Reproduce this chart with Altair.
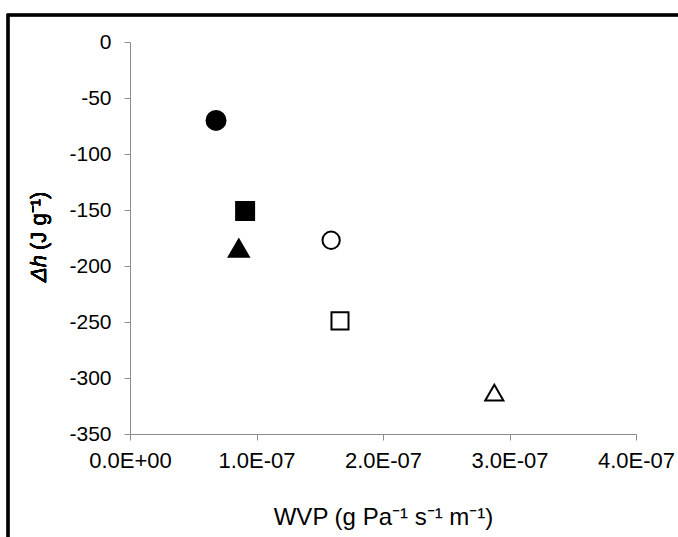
import altair as alt
import pandas as pd

# Data
wvp = [0.68e-7, 0.91e-7, 0.86e-7, 1.59e-7, 1.66e-7, 2.88e-7]
dh = [-70, -151, -184, -177, -249, -313]
shapes = ["circle", "square", "triangle-up", "circle", "square", "triangle-up"]
fills = ["black", "black", "black", "white", "white", "white"]
sizes = [361, 324, 400, 300, 290, 330]

x_ticks = [0, 1e-7, 2e-7, 3e-7, 4e-7]
y_ticks = [0, -50, -100, -150, -200, -250, -300, -350]

df = pd.DataFrame({"wvp": wvp, "dh": dh, "shape": shapes, "fill": fills, "size": sizes})

FONT = "Liberation Sans"
AXIS_GREY = "#8c8c8c"

points = alt.Chart(df).mark_point(filled=True, stroke="black", strokeWidth=2, opacity=1).encode(
    x=alt.X(
        "wvp:Q",
        scale=alt.Scale(domain=[0, 4e-7], nice=False, zero=False),
        axis=alt.Axis(
            values=x_ticks,
            labelExpr="datum.value == 0 ? '0.0E+00' : format(datum.value * 1e7, '.1f') + 'E-07'",
            labelFlush=False,
            labelFontSize=22,
            title="WVP (g Pa\u207b\u00b9 s\u207b\u00b9 m\u207b\u00b9)",
            titleX=253,
            titleY=83,
            titleBaseline="middle",
            titleAlign="center",
            labelPadding=10,
        ),
    ),
    y=alt.Y(
        "dh:Q",
        scale=alt.Scale(domain=[-350, 0], nice=False, zero=False),
        axis=alt.Axis(
            values=y_ticks,
            labelExpr="datum.value == 0 ? '0' : '-' + format(-datum.value, 'd')",
            labelFontSize=21,
            title=None,
            labelPadding=13,
        ),
    ),
    shape=alt.Shape("shape:N", scale=None),
    fill=alt.Fill("fill:N", scale=None),
    size=alt.Size("size:Q", scale=None),
)

frame = alt.Chart(df).mark_rect(filled=False, stroke="black", strokeWidth=2.5, clip=False).encode(
    x=alt.value(-122), x2=alt.value(700), y=alt.value(-27), y2=alt.value(700)
)

# y-axis title in two pieces: italic symbol and upright unit
ytitle_sym = alt.Chart(df).mark_text(
    text="\u0394h", font=FONT, fontSize=22, fontStyle="italic", fontWeight="normal", angle=270,
    align="left", baseline="middle", color="black", clip=False,
).encode(x=alt.value(-91), y=alt.value(240))

ytitle_unit = alt.Chart(df).mark_text(
    text="(J g\u207b\u00b9)", font=FONT, fontSize=22, fontWeight="normal", angle=270,
    align="left", baseline="middle", color="black", clip=False,
).encode(x=alt.value(-91), y=alt.value(208))

chart = (
    alt.layer(frame, points, ytitle_sym, ytitle_unit)
    .properties(
        width=506,
        height=392,
        autosize=alt.AutoSizeParams(type="none"),
        padding={"left": 130, "top": 42, "right": 42, "bottom": 103},
        background="white",
    )
    .configure_view(stroke=None)
    .configure_axis(
        grid=False,
        domainColor=AXIS_GREY,
        domainWidth=1,
        tickColor=AXIS_GREY,
        tickSize=6,
        labelFont=FONT,
        labelColor="black",
        titleFont=FONT,
        titleFontSize=24,
        titleFontWeight="normal",
        titleColor="black",
    )
)

chart.save("out.html", embed_options={"renderer": "svg", "actions": False})
